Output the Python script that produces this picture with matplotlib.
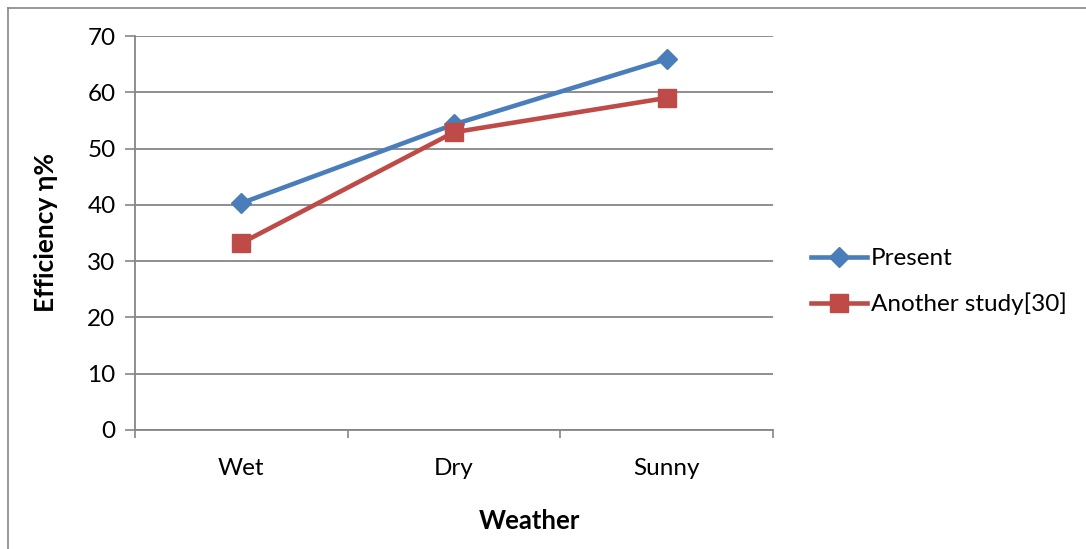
import matplotlib
matplotlib.use("Agg")
import matplotlib.pyplot as plt
from matplotlib.lines import Line2D

plt.rcParams['font.family'] = ['Lato', 'DejaVu Sans']

categories = ["Wet", "Dry", "Sunny"]
present = [40.3, 54.3, 65.9]
another_study = [33.2, 52.9, 59.0]
y_ticks = [0, 10, 20, 30, 40, 50, 60, 70]

W, H = 1086, 549
fig = plt.figure(figsize=(W / 100, H / 100), dpi=100)
ax = fig.add_axes([135 / W, 1 - 430 / H, (773 - 135) / W, (430 - 36) / H])

grid_c = "#868686"
blue = "#4A7EBB"
red = "#BE4B48"
fs = 17.5

x = list(range(len(categories)))
ax.plot(x, present, color=blue, lw=3.3, marker="D", ms=10.5,
        mfc=blue, mec=blue, label="Present", zorder=3, solid_capstyle="round")
ax.plot(x, another_study, color=red, lw=3.3, marker="s", ms=13,
        mfc=red, mec=red, label="Another study[30]", zorder=3, solid_capstyle="round")

ax.set_xlim(-0.5, len(categories) - 0.5)
ax.set_ylim(0, 70)
ax.set_yticks(y_ticks)
ax.set_xticks([i - 0.5 for i in range(len(categories) + 1)])
ax.set_xticklabels([])
ax.set_xticks(x, minor=True)
ax.set_xticklabels(categories, minor=True)
ax.tick_params(axis="x", which="minor", length=0, pad=20, labelsize=fs)
ax.tick_params(axis="x", which="major", length=6, width=1.2, color=grid_c, direction="out")
ax.tick_params(axis="y", length=7, width=1.2, color=grid_c, direction="out", pad=7, labelsize=fs)

ax.yaxis.grid(True, color=grid_c, lw=1.3)
ax.set_axisbelow(True)
for s in ["top", "right"]:
    ax.spines[s].set_visible(False)
for s in ["left", "bottom"]:
    ax.spines[s].set_color(grid_c)
    ax.spines[s].set_linewidth(1.3)

fig.text(46 / W, 1 - 232 / H, "Efficiency η%", rotation=90, fontsize=19,
         fontweight="bold", ha="center", va="center")
fig.text(529 / W, 1 - 521 / H, "Weather", fontsize=18.5, fontweight="bold",
         ha="center", va="center")

handles = [
    Line2D([], [], color=blue, lw=3.3, marker="D", ms=10.5, mfc=blue, mec=blue),
    Line2D([], [], color=red, lw=3.3, marker="s", ms=13, mfc=red, mec=red),
]
fig.legend(handles, ["Present", "Another study[30]"], loc="upper left",
           bbox_to_anchor=(811 / W, 1 - 248 / H), frameon=False, fontsize=fs,
           handlelength=2.3, handletextpad=0.15, labelspacing=0.97, borderpad=0,
           borderaxespad=0)

# chart-area frame edges
fig.add_artist(Line2D([7.5 / W, 7.5 / W], [0, 1 - 7.5 / H], transform=fig.transFigure,
                      color=grid_c, lw=1.2))
fig.add_artist(Line2D([7.5 / W, 1], [1 - 7.5 / H, 1 - 7.5 / H], transform=fig.transFigure,
                      color=grid_c, lw=1.2))

fig.savefig("out.png", dpi=100)
